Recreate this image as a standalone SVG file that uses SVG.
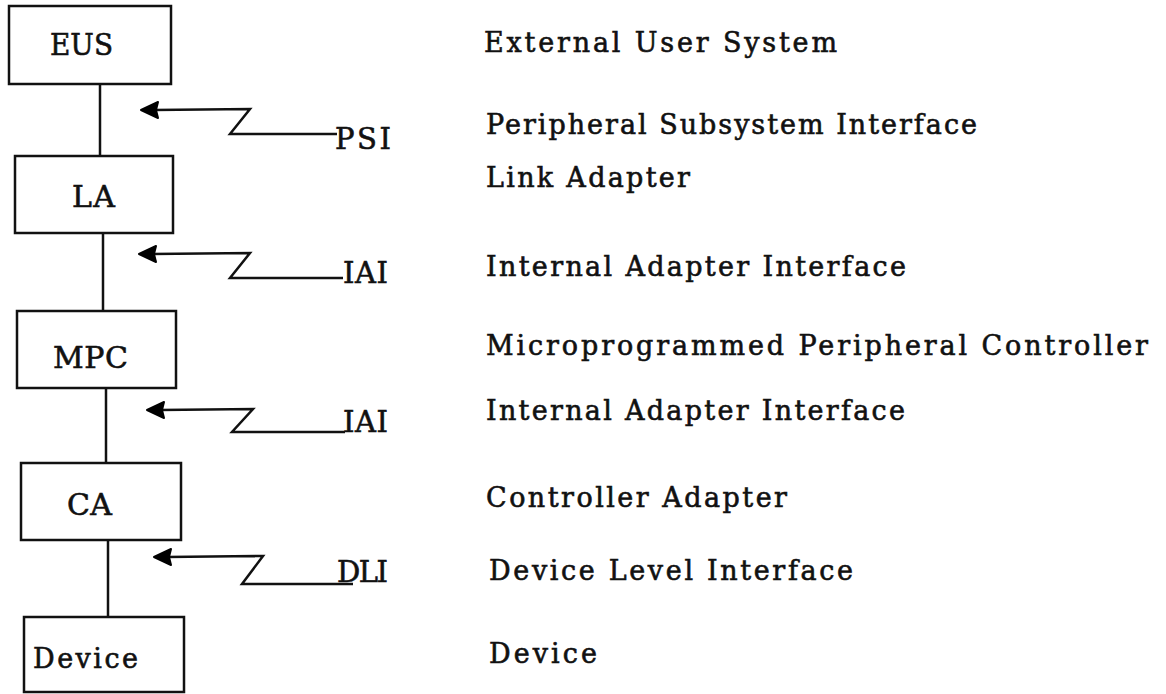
<svg xmlns="http://www.w3.org/2000/svg" width="1166" height="694" viewBox="0 0 1166 694">
<style>
  .box { fill: #ffffff; stroke: #111111; stroke-width: 2.5; }
  .lbl { font-family: "DejaVu Serif", "Liberation Serif", serif; fill: #111111; stroke: #111111; stroke-width: 0.6; }
  .big { font-size: 30px; }
  .mid { font-size: 29px; }
  .sm { font-size: 27px; }
  .wire { fill: none; stroke: #111111; stroke-width: 2.5; }
  .arr { fill: none; stroke: #111111; stroke-width: 2.5; stroke-linejoin: miter; }
  .head { fill: #000000; stroke: #000000; stroke-width: 2; stroke-linejoin: round; }
</style>
<rect width="1166" height="694" fill="#ffffff"/>

<g id="connectors">
  <line class="wire" x1="100" y1="84" x2="100" y2="156"/>
  <line class="wire" x1="103" y1="233" x2="103" y2="311"/>
  <line class="wire" x1="106" y1="388" x2="106" y2="463"/>
  <line class="wire" x1="108" y1="540" x2="108" y2="617"/>
  <polyline class="arr" points="337,134 230,134 250,109 154,110"/>
  <polygon class="head" points="141,110 158,102 156,110 158,118"/>
  <polyline class="arr" points="343,278 230,278 250,253 152,254"/>
  <polygon class="head" points="139,254 156,246 154,254 156,262"/>
  <polyline class="arr" points="345,432 232,432 253,409 160,410"/>
  <polygon class="head" points="147,410 164,402 162,410 164,418"/>
  <polyline class="arr" points="353,584 242,584 263,556 167,557"/>
  <polygon class="head" points="154,557 171,549 169,557 171,565"/>
</g>

<g id="node-eus">
  <rect class="box" x="9" y="6" width="162" height="78"/>
  <text class="lbl big" x="50" y="55" textLength="63" lengthAdjust="spacingAndGlyphs">EUS</text>
</g>
<g id="node-la">
  <rect class="box" x="15" y="156" width="158" height="77"/>
  <text class="lbl big" x="72" y="207" textLength="43" lengthAdjust="spacing">LA</text>
</g>
<g id="node-mpc">
  <rect class="box" x="17" y="311" width="159" height="77"/>
  <text class="lbl big" x="53" y="368" textLength="75" lengthAdjust="spacing">MPC</text>
</g>
<g id="node-ca">
  <rect class="box" x="21" y="463" width="160" height="77"/>
  <text class="lbl big" x="67" y="515" textLength="45" lengthAdjust="spacing">CA</text>
</g>
<g id="node-device">
  <rect class="box" x="24" y="617" width="160" height="75"/>
  <text class="lbl sm" x="33" y="668" textLength="105" lengthAdjust="spacing">Device</text>
</g>

<g id="interface-labels">
  <text class="lbl mid" x="335" y="149" textLength="56" lengthAdjust="spacing">PSI</text>
  <text class="lbl mid" x="343" y="283" textLength="45" lengthAdjust="spacing">IAI</text>
  <text class="lbl mid" x="343" y="432" textLength="45" lengthAdjust="spacing">IAI</text>
  <text class="lbl mid" x="337" y="582" textLength="51" lengthAdjust="spacing">DLI</text>
</g>

<g id="legend">
  <text class="lbl sm" x="484" y="52" textLength="353" lengthAdjust="spacing">External User System</text>
  <text class="lbl sm" x="486" y="134" textLength="491" lengthAdjust="spacing">Peripheral Subsystem Interface</text>
  <text class="lbl sm" x="486" y="187" textLength="204" lengthAdjust="spacing">Link Adapter</text>
  <text class="lbl sm" x="486" y="276" textLength="420" lengthAdjust="spacing">Internal Adapter Interface</text>
  <text class="lbl sm" x="486" y="355" textLength="662" lengthAdjust="spacing">Microprogrammed Peripheral Controller</text>
  <text class="lbl sm" x="486" y="420" textLength="419" lengthAdjust="spacing">Internal Adapter Interface</text>
  <text class="lbl sm" x="486" y="507" textLength="301" lengthAdjust="spacing">Controller Adapter</text>
  <text class="lbl sm" x="489" y="580" textLength="364" lengthAdjust="spacing">Device Level Interface</text>
  <text class="lbl sm" x="489" y="663" textLength="108" lengthAdjust="spacing">Device</text>
</g>
</svg>
